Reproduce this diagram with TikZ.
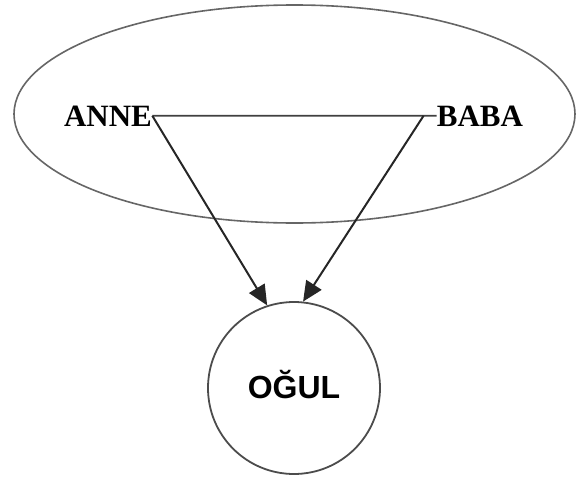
\documentclass[tikz,border=0pt]{standalone}
\usepackage{fontspec}
\setmainfont{Liberation Serif}
\newfontfamily\ogulfont{Liberation Sans}
\usetikzlibrary{shapes.geometric,arrows.meta}

\begin{document}
\begin{tikzpicture}[x=0.5pt,y=-0.5pt,
        parent/.style={inner sep=0pt,font=\fontsize{15.5}{18}\selectfont\bfseries},
        edge/.style={draw=black!75,line width=0.9pt},
        arrow/.style={draw=black!85,line width=1pt,-{Triangle[length=10pt,width=9pt]}}
    ]
    \useasboundingbox (0,0) rectangle (580,477);
    \node(family)[ellipse,draw=black!60,line width=0.8pt,
        minimum width=280.5pt,minimum height=109pt] at (294.5,114) {};
    \node(anne)[parent,anchor=base] at (108,126) {ANNE};
    \node(baba)[parent,anchor=base] at (480,126) {BABA};
    \node(ogul)[circle,draw=black!70,line width=0.9pt,minimum size=86pt,
        text height=10.5pt,text depth=0pt,
        font=\fontsize{16}{18}\ogulfont\bfseries] at (294,388) {OĞUL};
    \draw[edge](anne.east)--(baba.west);
    \draw[arrow](anne.east)--(ogul.108);
    \draw[arrow]([xshift=-6.5pt]baba.west)--(ogul.84);
\end{tikzpicture}
\end{document}
